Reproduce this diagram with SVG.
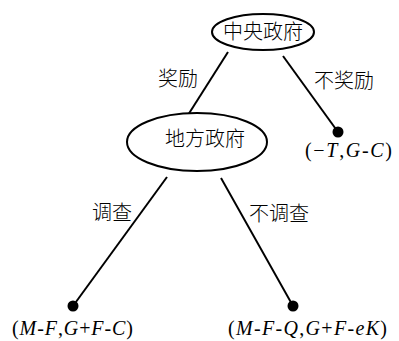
<svg xmlns="http://www.w3.org/2000/svg" width="399" height="341" viewBox="0 0 399 341">
<style>
.node ellipse{fill:#fff;stroke:#000;stroke-width:2}
.cjk{font-family:"Noto Sans CJK SC","Noto Sans CJK JP",serif;font-size:20px;font-weight:300;fill:#000}
.pay{font-family:"Liberation Serif","Noto Sans CJK SC",serif;font-size:20px;fill:#000}
.i{font-style:italic}
.edges line{stroke:#000;stroke-width:2}
.dot{fill:#000}
</style>
<rect width="399" height="341" fill="#fff"/>
<g class="edges" id="connectors">
<line x1="228" y1="52" x2="188" y2="115"/>
<line x1="283" y1="56" x2="338" y2="132"/>
<line x1="167" y1="177" x2="73" y2="306"/>
<line x1="221" y1="178" x2="293" y2="306"/>
</g>
<g id="n-central" class="node">
<ellipse cx="263" cy="32" rx="51" ry="18"/>
<text class="cjk" x="263" y="39" text-anchor="middle">中央政府</text>
</g>
<g id="n-local" class="node">
<ellipse cx="197" cy="142" rx="70" ry="29"/>
<text class="cjk" x="205" y="146" text-anchor="middle">地方政府</text>
</g>
<g id="n-leaf1">
<circle class="dot" cx="338" cy="132" r="5.5"/>
<text class="pay" x="305" y="157" textLength="87" lengthAdjust="spacing">(−<tspan class="i">T</tspan>,<tspan class="i">G</tspan>-<tspan class="i">C</tspan>)</text>
</g>
<g id="n-leaf2">
<circle class="dot" cx="73" cy="306" r="5.5"/>
<text class="pay" x="12" y="335" textLength="121" lengthAdjust="spacing">(<tspan class="i">M</tspan>-<tspan class="i">F</tspan>,<tspan class="i">G</tspan>+<tspan class="i">F</tspan>-<tspan class="i">C</tspan>)</text>
</g>
<g id="n-leaf3">
<circle class="dot" cx="293" cy="306" r="5.5"/>
<text class="pay" x="228" y="335" textLength="159" lengthAdjust="spacing">(<tspan class="i">M</tspan>-<tspan class="i">F</tspan>-<tspan class="i">Q</tspan>,<tspan class="i">G</tspan>+<tspan class="i">F</tspan>-<tspan class="i">eK</tspan>)</text>
</g>
<g id="labels">
<text class="cjk" x="178" y="86" text-anchor="middle">奖励</text>
<text class="cjk" x="344" y="88" text-anchor="middle">不奖励</text>
<text class="cjk" x="112" y="220" text-anchor="middle">调查</text>
<text class="cjk" x="279" y="221" text-anchor="middle">不调查</text>
</g>
</svg>
